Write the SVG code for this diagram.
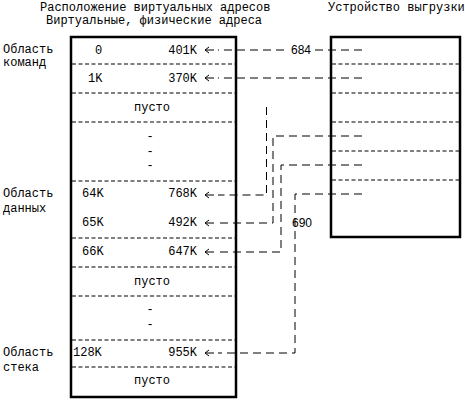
<svg xmlns="http://www.w3.org/2000/svg" xmlns:xlink="http://www.w3.org/1999/xlink" width="465" height="400" viewBox="0 0 465 400">
<style>
.t{font-family:"Liberation Mono","DejaVu Sans Mono",monospace;font-size:12px;fill:#000}
.n{font-family:"Liberation Sans","DejaVu Sans",sans-serif;font-size:12px;fill:#000}
.box{fill:#fff;stroke:#000;stroke-width:2.5}
.sep{stroke:#000;stroke-width:1;stroke-dasharray:4,2.5;fill:none}
.con{stroke:#000;stroke-width:1;stroke-dasharray:8,5;fill:none}
.ah{stroke:#000;stroke-width:1;fill:none}
</style>
<defs>
<path id="arr" class="ah" d="M0,0 H9 M4,-3 L0,0 L4,3"/>
</defs>
<rect width="465" height="400" fill="#fff"/>
<g id="titles">
<text class="t" x="40" y="11">Расположение виртуальных адресов</text>
<text class="t" x="46" y="24">Виртуальные, физические адреса</text>
<text class="t" x="328" y="11">Устройство выгрузки</text>
</g>
<g id="labels">
<text class="t" x="3" y="53">Область</text>
<text class="t" x="3" y="66">команд</text>
<text class="t" x="3" y="197">Область</text>
<text class="t" x="3" y="212">данных</text>
<text class="t" x="3" y="356">Область</text>
<text class="t" x="3" y="371">стека</text>
</g>
<g id="virtual-memory">
<rect class="box" x="71" y="37" width="165" height="360"/>
<path class="sep" d="M72,64 H235 M72,93 H235 M72,122 H235 M72,181 H235 M72,238 H235 M72,267 H235 M72,296 H235 M72,340 H235 M72,367 H235"/>
<text class="t" x="95" y="54">0</text>
<text class="t" x="197" y="54" text-anchor="end">401K</text>
<text class="t" x="88" y="82">1K</text>
<text class="t" x="197" y="82" text-anchor="end">370K</text>
<text class="t" x="152" y="111" text-anchor="middle">пусто</text>
<text class="t" x="150" y="140" text-anchor="middle">-</text>
<text class="t" x="150" y="155" text-anchor="middle">-</text>
<text class="t" x="150" y="169" text-anchor="middle">-</text>
<text class="t" x="82" y="197">64K</text>
<text class="t" x="197" y="197" text-anchor="end">768K</text>
<text class="t" x="82" y="226">65K</text>
<text class="t" x="197" y="226" text-anchor="end">492K</text>
<text class="t" x="82" y="255">66K</text>
<text class="t" x="197" y="255" text-anchor="end">647K</text>
<text class="t" x="152" y="285" text-anchor="middle">пусто</text>
<text class="t" x="150" y="313" text-anchor="middle">-</text>
<text class="t" x="150" y="328" text-anchor="middle">-</text>
<text class="t" x="73" y="356">128K</text>
<text class="t" x="197" y="356" text-anchor="end">955K</text>
<text class="t" x="152" y="384" text-anchor="middle">пусто</text>
</g>
<g id="swap-device">
<rect class="box" x="331" y="37" width="129" height="200"/>
<path class="sep" d="M332,64 H459 M332,93 H459 M332,122 H459 M332,151 H459 M332,180 H459"/>
</g>
<g id="connectors">
<path class="con" d="M362,50 H218"/>
<rect x="288" y="43" width="25" height="12" fill="#fff"/>
<text class="n" x="291" y="54">684</text>
<path class="con" d="M362,78 H218"/>
<path class="con" d="M266.5,107 V195 H218"/>
<path class="con" d="M362,136 H273 V223 H218"/>
<path class="con" d="M362,165 H281 V252 H218"/>
<path class="con" d="M362,194 H295 V353 H218"/>
<text class="n" x="292" y="227">690</text>
<use xlink:href="#arr" x="205" y="50"/>
<use xlink:href="#arr" x="205" y="78"/>
<use xlink:href="#arr" x="205" y="195"/>
<use xlink:href="#arr" x="205" y="223"/>
<use xlink:href="#arr" x="205" y="252"/>
<use xlink:href="#arr" x="205" y="353"/>
</g>
</svg>
